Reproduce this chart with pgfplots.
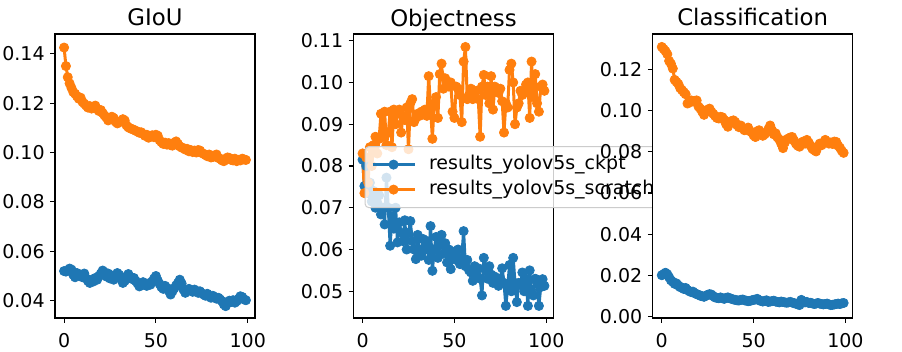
\documentclass[border=0pt]{standalone}
\usepackage{fontspec}
\setmainfont{DejaVu Sans}
\usepackage{pgfplots}
\usepackage{pgfplotstable}
\pgfplotsset{compat=1.18}
\definecolor{tabblue}{HTML}{1F77B4}
\definecolor{taborange}{HTML}{FF7F0E}

\pgfplotstableread{
x gb go ob oo cb co
0 0.0520 0.1425 0.0815 0.0830 0.0200 0.1310
1 0.0518 0.1350 0.0752 0.0735 0.0205 0.1300
2 0.0522 0.1305 0.0800 0.0820 0.0212 0.1290
3 0.0530 0.1280 0.0735 0.0760 0.0205 0.1275
4 0.0526 0.1262 0.0760 0.0845 0.0190 0.1242
5 0.0505 0.1245 0.0715 0.0800 0.0175 0.1228
6 0.0495 0.1238 0.0740 0.0850 0.0168 0.1205
7 0.0512 0.1228 0.0700 0.0870 0.0158 0.1150
8 0.0508 0.1218 0.0712 0.0830 0.0160 0.1140
9 0.0500 0.1222 0.0730 0.0865 0.0150 0.1130
10 0.0495 0.1205 0.0684 0.0925 0.0142 0.1110
11 0.0510 0.1198 0.0700 0.0870 0.0140 0.1100
12 0.0490 0.1190 0.0660 0.0930 0.0133 0.1090
13 0.0480 0.1182 0.0772 0.0850 0.0138 0.1080
14 0.0472 0.1188 0.0700 0.0880 0.0128 0.1035
15 0.0485 0.1178 0.0609 0.0930 0.0122 0.1040
16 0.0478 0.1185 0.0680 0.0845 0.0118 0.1050
17 0.0492 0.1190 0.0650 0.0935 0.0120 0.1045
18 0.0485 0.1175 0.0700 0.0900 0.0112 0.1048
19 0.0500 0.1168 0.0617 0.0930 0.0108 0.1050
20 0.0510 0.1172 0.0665 0.0935 0.0105 0.1020
21 0.0522 0.1160 0.0640 0.0880 0.0100 0.1010
22 0.0515 0.1150 0.0620 0.0920 0.0098 0.0995
23 0.0498 0.1142 0.0670 0.0910 0.0095 0.0980
24 0.0510 0.1130 0.0600 0.0940 0.0100 0.1000
25 0.0490 0.1138 0.0640 0.0840 0.0105 0.1005
26 0.0502 0.1145 0.0668 0.0950 0.0108 0.1010
27 0.0485 0.1140 0.0620 0.0960 0.0106 0.0995
28 0.0495 0.1125 0.0600 0.0905 0.0098 0.0985
29 0.0512 0.1118 0.0577 0.0915 0.0092 0.0975
30 0.0505 0.1122 0.0635 0.0925 0.0090 0.0965
31 0.0490 0.1128 0.0600 0.0920 0.0088 0.0962
32 0.0472 0.1135 0.0585 0.0930 0.0092 0.0970
33 0.0480 0.1130 0.0625 0.0925 0.0088 0.0968
34 0.0498 0.1110 0.0600 0.0935 0.0085 0.0955
35 0.0508 0.1102 0.0620 0.0920 0.0090 0.0935
36 0.0495 0.1098 0.0575 0.1015 0.0092 0.0922
37 0.0488 0.1095 0.0656 0.0940 0.0088 0.0940
38 0.0492 0.1092 0.0549 0.0865 0.0085 0.0950
39 0.0480 0.1088 0.0600 0.0950 0.0082 0.0953
40 0.0470 0.1085 0.0630 0.0965 0.0080 0.0945
41 0.0458 0.1080 0.0580 0.0915 0.0078 0.0930
42 0.0462 0.1082 0.0610 0.1020 0.0077 0.0920
43 0.0475 0.1075 0.0635 0.1045 0.0080 0.0928
44 0.0468 0.1068 0.0590 0.0985 0.0082 0.0915
45 0.0460 0.1072 0.0615 0.1010 0.0078 0.0905
46 0.0470 0.1060 0.0569 0.1000 0.0076 0.0912
47 0.0465 0.1065 0.0600 0.0990 0.0074 0.0918
48 0.0478 0.1070 0.0553 0.1000 0.0075 0.0900
49 0.0490 0.1062 0.0580 0.0930 0.0078 0.0895
50 0.0500 0.1072 0.0595 0.0915 0.0080 0.0880
51 0.0482 0.1068 0.0575 0.0990 0.0082 0.0872
52 0.0468 0.1050 0.0600 0.0985 0.0085 0.0900
53 0.0455 0.1042 0.0565 0.0970 0.0078 0.0905
54 0.0448 0.1035 0.0580 0.0905 0.0075 0.0890
55 0.0460 0.1040 0.0644 0.1050 0.0072 0.0878
56 0.0452 0.1032 0.0560 0.1085 0.0075 0.0885
57 0.0440 0.1038 0.0575 0.0960 0.0078 0.0895
58 0.0425 0.1030 0.0550 0.0970 0.0070 0.0910
59 0.0438 0.1028 0.0545 0.0985 0.0072 0.0928
60 0.0450 0.1040 0.0525 0.0960 0.0074 0.0905
61 0.0462 0.1045 0.0560 0.0975 0.0076 0.0885
62 0.0472 0.1035 0.0540 0.0980 0.0072 0.0890
63 0.0485 0.1025 0.0555 0.0960 0.0070 0.0870
64 0.0470 0.1020 0.0530 0.0870 0.0068 0.0860
65 0.0445 0.1018 0.0490 0.0990 0.0072 0.0840
66 0.0432 0.1012 0.0580 0.1018 0.0070 0.0818
67 0.0440 0.1015 0.0550 0.0970 0.0068 0.0845
68 0.0448 0.1005 0.0530 0.0990 0.0066 0.0860
69 0.0442 0.1010 0.0560 0.0950 0.0068 0.0865
70 0.0436 0.1002 0.0540 0.1015 0.0070 0.0870
71 0.0445 0.1008 0.0520 0.0935 0.0067 0.0872
72 0.0440 0.1000 0.0535 0.0990 0.0064 0.0855
73 0.0432 0.1010 0.0525 0.0980 0.0062 0.0840
74 0.0438 0.1008 0.0513 0.0975 0.0058 0.0830
75 0.0430 0.0998 0.0530 0.0985 0.0055 0.0825
76 0.0425 0.0995 0.0555 0.0955 0.0080 0.0845
77 0.0420 0.0990 0.0520 0.0880 0.0072 0.0850
78 0.0428 0.0985 0.0465 0.0950 0.0068 0.0840
79 0.0418 0.0992 0.0510 0.0940 0.0070 0.0858
80 0.0412 0.0980 0.0563 0.1030 0.0065 0.0845
81 0.0420 0.0982 0.0500 0.1045 0.0066 0.0830
82 0.0415 0.0988 0.0580 0.1000 0.0063 0.0815
83 0.0408 0.0992 0.0520 0.0900 0.0060 0.0808
84 0.0412 0.0978 0.0474 0.0940 0.0062 0.0802
85 0.0405 0.0975 0.0520 0.0950 0.0065 0.0825
86 0.0398 0.0968 0.0515 0.0980 0.0062 0.0840
87 0.0385 0.0965 0.0545 0.0970 0.0060 0.0832
88 0.0378 0.0975 0.0500 0.0975 0.0058 0.0845
89 0.0390 0.0980 0.0530 0.0995 0.0060 0.0858
90 0.0400 0.0978 0.0465 0.1000 0.0062 0.0850
91 0.0395 0.0970 0.0550 0.0915 0.0058 0.0840
92 0.0402 0.0968 0.0500 0.1050 0.0055 0.0845
93 0.0392 0.0975 0.0490 0.0965 0.0056 0.0838
94 0.0398 0.0965 0.0530 0.1020 0.0058 0.0850
95 0.0408 0.0970 0.0520 0.0950 0.0060 0.0848
96 0.0418 0.0968 0.0465 0.0930 0.0062 0.0830
97 0.0415 0.0975 0.0510 0.0990 0.0060 0.0820
98 0.0405 0.0972 0.0529 0.0995 0.0063 0.0805
99 0.0402 0.0970 0.0513 0.0980 0.0065 0.0795
}\data

\pgfplotsset{
  myaxis/.style={
    scale only axis, width=100pt, height=142pt,
    xmin=-4.95, xmax=103.95, xtick={0,50,100},
    tick align=outside, major tick length=2.4pt,
    xtick pos=left, ytick pos=left,
    tick style={black, line width=0.55pt},
    axis line style={line width=0.55pt},
    scaled y ticks=false,
    axis background/.style={fill=white},
    /pgf/number format/assume math mode=true,
    ticklabel style={font=\fontsize{9.5}{11}\selectfont},
    xticklabel style={anchor=north, inner sep=0pt, yshift=-5.1pt},
    yticklabel style={anchor=east, inner sep=0pt, xshift=-2.6pt,
      /pgf/number format/.cd, fixed, fixed zerofill, precision=2},
    every axis title shift=0pt,
    title style={at={(0.5,1)}, anchor=base, yshift=4pt, inner sep=0pt,
      font=\fontsize{11.4}{13}\selectfont},
  },
  ckpt/.style={color=tabblue, line width=1.5pt, line join=round, mark=*, mark size=2.3pt,
    mark options={solid, line width=0.4pt}},
  scratch/.style={color=taborange, line width=1.5pt, line join=round, mark=*, mark size=2.3pt,
    mark options={solid, line width=0.4pt}},
}

\begin{document}
\begin{tikzpicture}
\path[use as bounding box, fill=white] (0,0) rectangle (451pt,176pt);

\begin{axis}[myaxis, at={(27.5pt,17pt)}, anchor=south west, title={GIoU},
  ymin=0.0330, ymax=0.1480, ytick={0.04,0.06,0.08,0.10,0.12,0.14}]
\addplot[ckpt] table[x=x,y=gb]{\data};
\addplot[scratch] table[x=x,y=go]{\data};
\end{axis}

\begin{axis}[myaxis, at={(176.75pt,17pt)}, anchor=south west, title={Objectness},
  ymin=0.0436, ymax=0.1116, ytick={0.05,0.06,0.07,0.08,0.09,0.10,0.11},
  legend cell align=left,
  legend image code/.code={\draw[mark repeat=2, mark phase=2, fill opacity=1] plot coordinates {(0pt,0pt) (10.5pt,0pt) (21pt,0pt)};},
  legend style={at={(0.0553,0.6056)}, anchor=north west,
    font=\fontsize{9.5}{11}\selectfont,
    fill=white, fill opacity=0.8, draw opacity=1, text opacity=1,
    draw=black!20, line width=0.5pt, rounded corners=2pt,
    inner xsep=3pt, inner ysep=2.8pt, row sep=0pt,
    nodes={inner xsep=0pt, inner ysep=1.5pt, text height=7.2pt, text depth=2.3pt},
    /tikz/every odd column/.append style={column sep=6.5pt}}]
\addplot[ckpt] table[x=x,y=ob]{\data};
\addlegendentry{results\_yolov5s\_ckpt}
\addplot[scratch] table[x=x,y=oo]{\data};
\addlegendentry{results\_yolov5s\_scratch}
\end{axis}

\begin{axis}[myaxis, at={(326.35pt,17pt)}, anchor=south west, title={Classification},
  ymin=-0.0008, ymax=0.1373, ytick={0,0.02,0.04,0.06,0.08,0.10,0.12}]
\addplot[ckpt] table[x=x,y=cb]{\data};
\addplot[scratch] table[x=x,y=co]{\data};
\end{axis}
\end{tikzpicture}
\end{document}
